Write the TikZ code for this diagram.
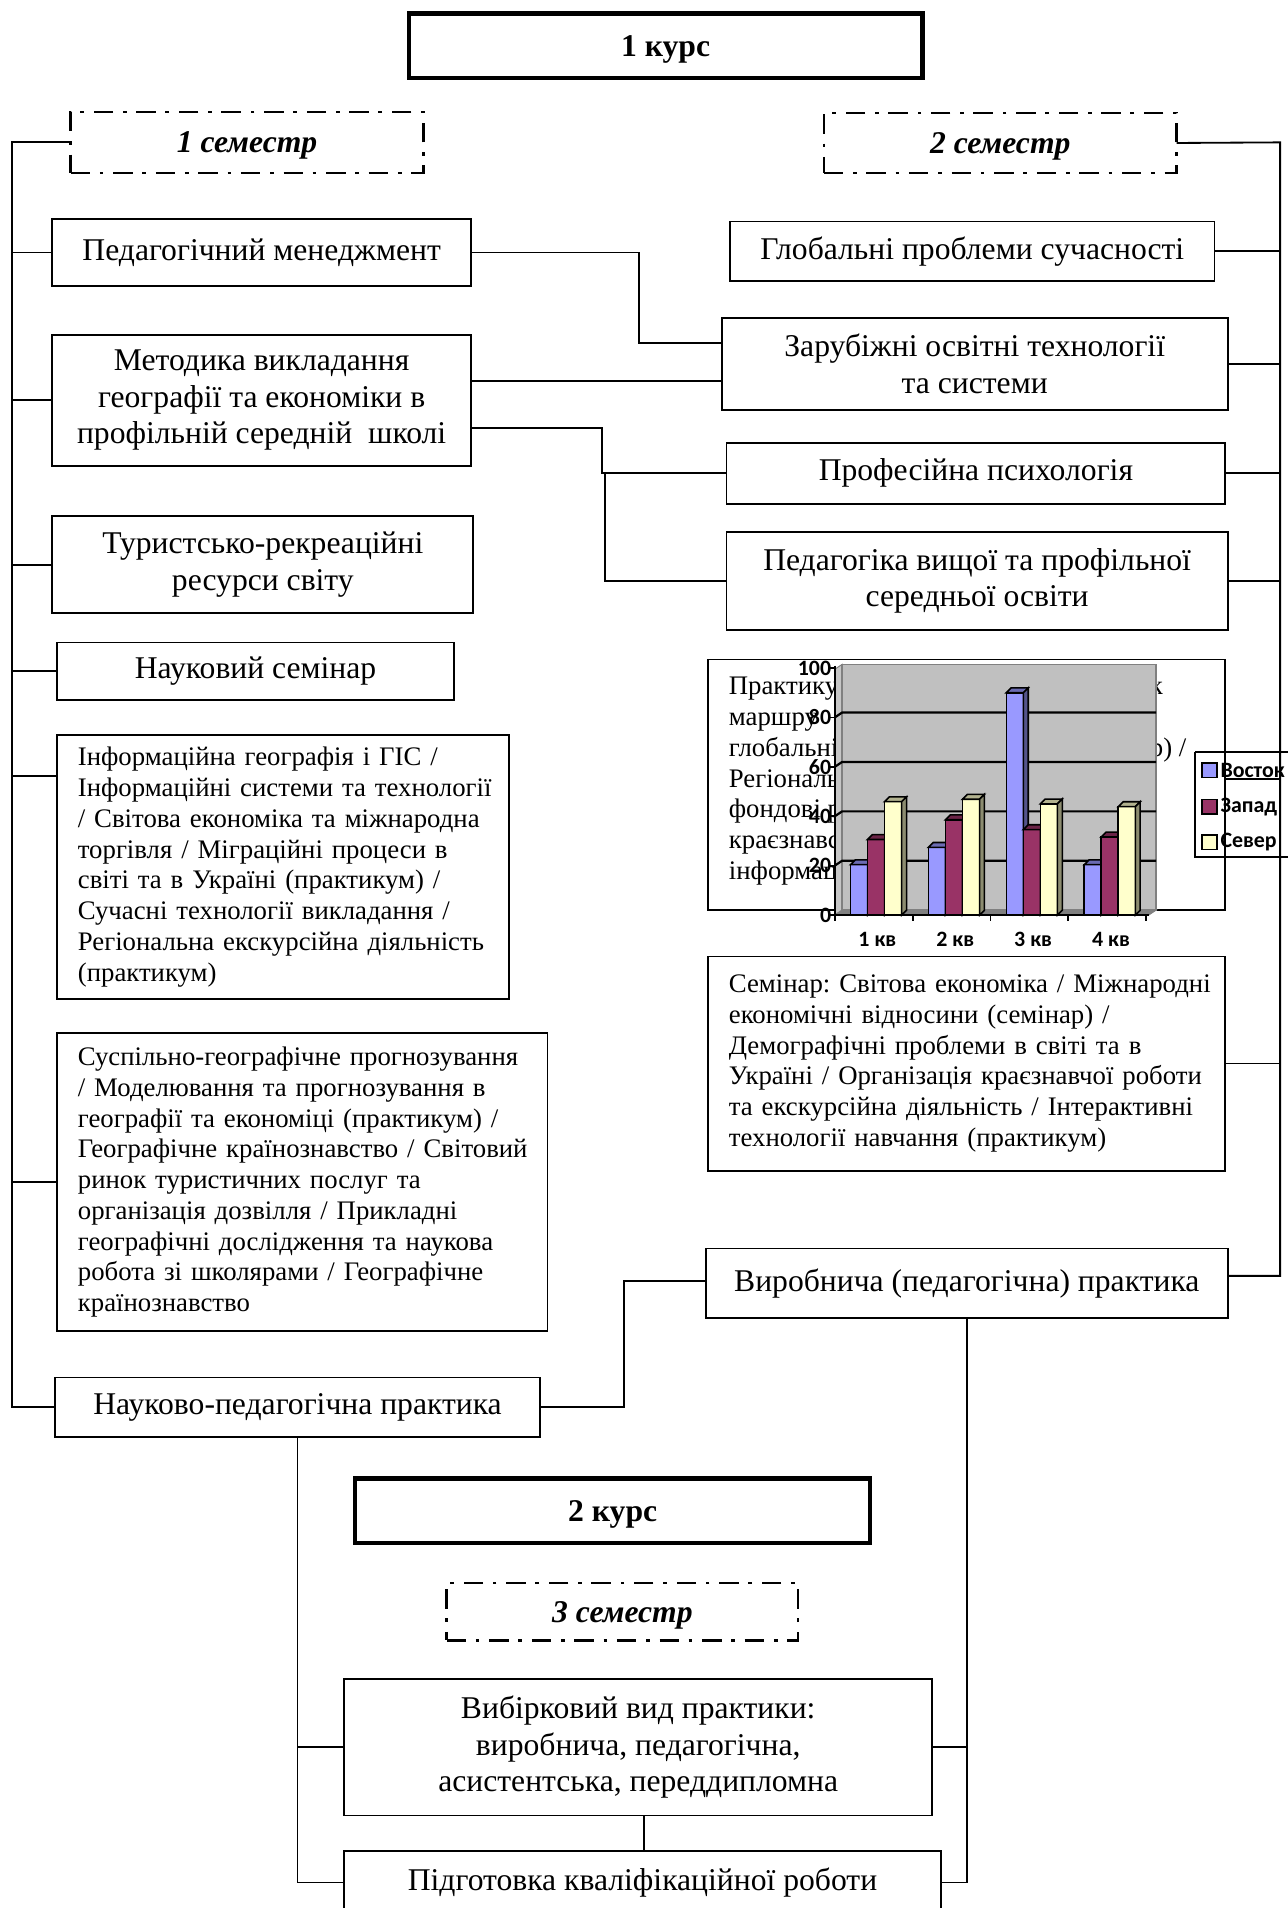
\documentclass[tikz,border=0pt]{standalone}
\usepackage{fontspec}
\setmainfont{Liberation Serif}
\newfontfamily\chartfont{Carlito}
\usetikzlibrary{calc}
\definecolor{east}{HTML}{9999FF}
\definecolor{west}{HTML}{993366}
\definecolor{north}{HTML}{FFFFCC}
\definecolor{wallgray}{HTML}{C0C0C0}
\definecolor{floorgray}{HTML}{808080}
\frenchspacing
\begin{document}
\begin{tikzpicture}[x=1pt,y=-1pt,
  every node/.style={inner sep=0pt, outer sep=0pt},
  box/.style={draw, line width=1.5pt, rectangle, align=center, font=\fontsize{26}{30}\selectfont},
  smallbox/.style={draw, line width=1.5pt, rectangle, align=left, font=\fontsize{22}{25.3}\selectfont},
  smalltext/.style={font=\fontsize{22}{25.3}\selectfont},
  kurs/.style={draw, line width=3.5pt, rectangle, text depth=0pt, font=\bfseries\fontsize{26}{30}\selectfont},
  sem/.style={draw, line width=2pt, dash pattern=on 16pt off 8pt on 3pt off 8pt, rectangle, text depth=0pt, font=\bfseries\itshape\fontsize{26}{30}\selectfont},
  conn/.style={line width=1.5pt},
  chartlbl/.style={font=\chartfont\bfseries\fontsize{18}{21}\selectfont},
]
\fill[white] (0,0) rectangle (1058,1568);
\useasboundingbox (0,0) rectangle (1058,1568);

% ---------- headers ----------
\node[kurs, minimum width=422pt, minimum height=53pt] (k1) at (547,37.5) {1 курс};
\node[sem, minimum width=290pt, minimum height=50pt] (s1) at (203,117) {1 семестр};
\node[sem, minimum width=290pt, minimum height=49pt] (s2) at (822,117.5) {2 семестр};

% ---------- left column ----------
\node[box, minimum width=344pt, minimum height=55pt] (pm) at (215,207.5) {Педагогічний менеджмент};
\node[box, minimum width=344pt, minimum height=108pt] (mv) at (215,329) {Методика викладання\\ географії та економіки в\\ профільній середній \ школі};
\node[box, minimum width=346pt, minimum height=80pt] (tr) at (216,464) {Туристсько-рекреаційні\\ ресурси світу};
\node[box, minimum width=326pt, minimum height=47pt] (ns) at (210,551.5) {Науковий семінар};
\node[smallbox, minimum width=371pt, minimum height=217pt, text width=337pt] (ig) at (232.5,712.5)
 {\mbox{Інформаційна географія і ГІС /}\\ \mbox{Інформаційні системи та технології}\\ \mbox{/ Світова економіка та міжнародна}\\ \mbox{торгівля / Міграційні процеси в}\\ \mbox{світі та в Україні (практикум) /}\\ \mbox{Сучасні технології викладання /}\\ \mbox{Регіональна екскурсійна діяльність}\\ \mbox{(практикум)}};
\node[smallbox, minimum width=403pt, minimum height=245pt, text width=369pt] (sg) at (248.5,971.5)
 {\mbox{Суспільно-географічне прогнозування}\\ \mbox{/ Моделювання та прогнозування в}\\ \mbox{географії та економіці (практикум) /}\\ \mbox{Географічне країнознавство / Світовий}\\ \mbox{ринок туристичних послуг та}\\ \mbox{організація дозвілля / Прикладні}\\ \mbox{географічні дослідження та наукова}\\ \mbox{робота зі школярами / Географічне}\\ \mbox{країнознавство}};
\node[box, minimum width=399pt, minimum height=49pt] (np) at (244.5,1156.5) {Науково-педагогічна практика};

% ---------- right column ----------
\node[box, minimum width=398pt, minimum height=49pt] (gp) at (799,206.5) {Глобальні проблеми сучасності};
\node[box, minimum width=416pt, minimum height=76pt] (zo) at (801,299) {Зарубіжні освітні технології\\ та системи};
\node[box, minimum width=410pt, minimum height=50pt] (pp) at (802,389) {Професійна психологія};
\node[box, minimum width=412pt, minimum height=81pt] (pv) at (803,477.5) {Педагогіка вищої та профільної\\ середньої освіти};
\node[box, minimum width=425pt, minimum height=206pt] (pr) at (794.5,645) {};
\node[smallbox, minimum width=425pt, minimum height=176pt, text width=391pt] (sm) at (794.5,874)
 {\mbox{Семінар: Світова економіка / Міжнародні}\\ \mbox{економічні відносини (семінар) /}\\ \mbox{Демографічні проблеми в світі та в}\\ \mbox{Україні / Організація краєзнавчої роботи}\\ \mbox{та екскурсійна діяльність / Інтерактивні}\\ \mbox{технології навчання (практикум)}};
\node[box, minimum width=429pt, minimum height=57pt] (vp) at (794.5,1054.5) {Виробнича (педагогічна) практика};

% ---------- text partly hidden by the chart ----------
\node[smalltext, anchor=base west] (t1) at (599,571) {Практику};
\node[smalltext, anchor=base west] (t2) at (599,596.3) {маршру};
\node[smalltext, anchor=base west] (t3) at (599,621.6) {глобальні};
\node[smalltext, anchor=base west] (t4) at (599,646.9) {Регіональ};
\node[smalltext, anchor=base west] (t5) at (599,672.2) {фондові р};
\node[smalltext, anchor=base west] (t6) at (599,697.5) {краєзнавс};
\node[smalltext, anchor=base west] (t7) at (599,722.8) {інформац};
\node[smalltext, anchor=base west] (t8) at (945,571) {к};
\node[smalltext, anchor=base west] (t9) at (945,621.6) {р) /};

% ---------- chart ----------
\filldraw[fill=gray!45, draw=floorgray, line width=0.8pt] (686,550) -- (692,546) -- (692,748) -- (686,752) -- cycle;
\filldraw[fill=wallgray, draw=floorgray, line width=1.2pt] (692,546) rectangle (950,748);
\filldraw[fill=floorgray, draw=floorgray, line width=0.8pt] (686,752) -- (692,748) -- (950,748) -- (944,752) -- cycle;
\foreach \v in {20,40,60,80} {
  \draw[line width=1.8pt] (686,{752-2.03*\v}) -- (692,{748-2.03*\v}) -- (950,{748-2.03*\v});
}
\foreach \g/\va/\vb/\vc in {0/20.4/30.6/45.9, 1/27.4/38.6/46.9, 2/90/34.6/45, 3/20.4/31.6/43.9} {
  \foreach \s/\v/\col in {0/\va/east, 1/\vb/west, 2/\vc/north} {
    \pgfmathsetmacro\xa{699+64*\g+14*\s}
    \pgfmathsetmacro\yt{752-2.03*\v}
    \filldraw[fill=\col, draw=black, line width=1.3pt] (\xa,752) rectangle ({\xa+14},\yt);
    \filldraw[fill=\col!70!black, draw=black, line width=1.3pt] (\xa,\yt) -- ({\xa+4},{\yt-4}) -- ({\xa+18},{\yt-4}) -- ({\xa+14},\yt) -- cycle;
    \filldraw[fill=\col!55!black, draw=black, line width=1.3pt] ({\xa+14},\yt) -- ({\xa+18},{\yt-4}) -- ({\xa+18},748) -- ({\xa+14},752) -- cycle;
  }
}
\draw[line width=1.5pt] (686,547) -- (686,752) -- (944,752);
\foreach \v in {0,20,40,60,80,100} {
  \draw[line width=1.5pt] (682,{752-2.03*\v}) -- (686,{752-2.03*\v});
  \node[chartlbl, anchor=east] at (683,{752-2.03*\v}) {\v};
}
\foreach \k in {0,1,2,3,4} {
  \draw[line width=1.5pt] ({686+64*\k},752) -- ({686+64*\k},757);
}
\node[chartlbl] (q1) at (721,772) {1 кв};
\node[chartlbl] (q2) at (785,772) {2 кв};
\node[chartlbl] (q3) at (849,772) {3 кв};
\node[chartlbl] (q4) at (913,772) {4 кв};
% legend
\draw[line width=1.5pt] (982,618) -- (1075,618) (982,618) -- (982,704) -- (1075,704);
\filldraw[fill=east, line width=1.3pt] (988,627) rectangle (1000,639);
\filldraw[fill=west, line width=1.3pt] (988,657) rectangle (1000,669);
\filldraw[fill=north, line width=1.3pt] (988,686) rectangle (1000,698);
\node[chartlbl, anchor=west] (lg1) at (1003,633) {Восток};
\node[chartlbl, anchor=west] (lg2) at (1003,663) {Запад};
\node[chartlbl, anchor=west] (lg3) at (1003,692) {Север};

% ---------- bottom ----------
\node[kurs, minimum width=423pt, minimum height=53pt] (k2) at (503.5,1241.5) {2 курс};
\node[sem, minimum width=289pt, minimum height=47pt] (s3) at (511.5,1324.5) {3 семестр};
\node[box, minimum width=483pt, minimum height=112pt] (vv) at (524.5,1436) {Вибірковий вид практики:\\ виробнича, педагогічна,\\ асистентська, переддипломна};
\node[box, minimum width=490pt, minimum height=52pt] (pk) at (528,1547) {Підготовка кваліфікаційної роботи};

% ---------- connectors ----------
\coordinate (L) at (10,117);
\coordinate (R) at (1052,117);
\draw[conn] (s1.west) -- (L) |- (np.west);
\draw[conn] (L |- pm.west) -- (pm.west);
\draw[conn] (L |- mv.west) -- (mv.west);
\draw[conn] (L |- tr.west) -- (tr.west);
\draw[conn] (L |- ns.west) -- (ns.west);
\coordinate (igT) at ($(ig.north west)+(0,34)$);
\draw[conn] (L |- igT) -- (igT);
\draw[conn] (L |- sg.west) -- (sg.west);

\coordinate (vpE) at ($(vp.east)+(0,-6)$);
\coordinate (prE) at ($(pr.east)+(0,-5)$);
\draw[conn] (s2.east) -- (R) |- (vpE);
\draw[conn] (R |- gp.east) -- (gp.east);
\draw[conn] (R |- zo.east) -- (zo.east);
\draw[conn] (R |- pp.east) -- (pp.east);
\draw[conn] (R |- pv.east) -- (pv.east);
\draw[conn] (R |- prE) -- (prE);
\draw[conn] (R |- sm.east) -- (sm.east);

\draw[conn] (pm.east) -- ++(138,0) |- ($(zo.west)+(0,-17)$);
\draw[conn] ($(mv.east)+(0,-16)$) -- ($(zo.west)+(0,14)$);
\draw[conn] ($(mv.east)+(0,23)$) -- ++(108,0) |- (pp.west);
\coordinate (J) at (497,389);
\draw[conn] (J) |- (pv.west);
\draw[conn] (np.east) -- ++(69,0) |- ($(vp.west)+(0,-1.5)$);

\draw[conn] (np.south) |- (pk.west);
\draw[conn] (np.south |- vv.west) -- (vv.west);
\draw[conn] (vp.south) |- (pk.east);
\draw[conn] (vp.south |- vv.east) -- (vv.east);
\draw[conn] ($(vv.south)+(5,0)$) -- ($(pk.north)+(1.5,0)$);
\end{tikzpicture}
\end{document}
